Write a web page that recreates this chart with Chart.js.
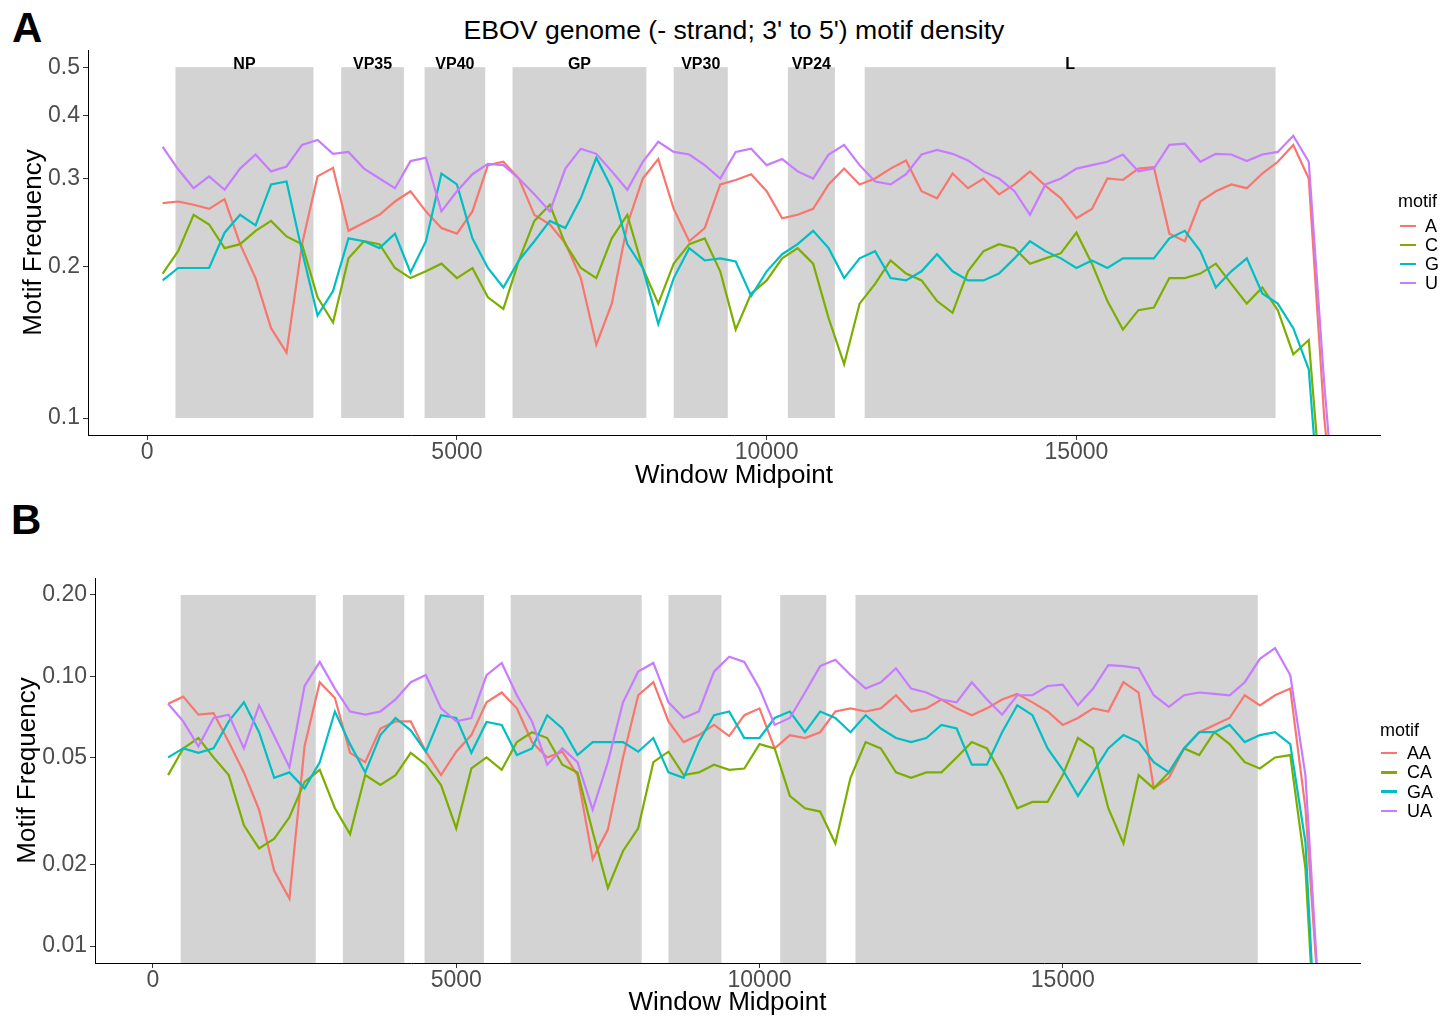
<!DOCTYPE html>
<html lang="en">
<head>
<meta charset="utf-8">
<title>EBOV genome motif density</title>
<script src="https://cdn.jsdelivr.net/npm/chart.js@4.4.1/dist/chart.umd.min.js"></script>
<style>
  html, body { margin: 0; padding: 0; background: #fff; }
  body { width: 1441px; height: 1017px; position: relative; overflow: hidden;
         font-family: "Liberation Sans", Arial, Helvetica, sans-serif; color: #000; }
  canvas { position: absolute; left: 0; }
  #chartA { top: 0; }
  #chartB { top: 500px; }
  .tag { position: absolute; font-weight: bold; font-size: 42px; line-height: 42px; }
  .titulo { position: absolute; left: 88px; width: 1292px; top: 17px; text-align: center;
            font-size: 26.6px; line-height: 27px; white-space: nowrap; }
  .leyenda { position: absolute; font-size: 18px; line-height: 18px; }
  .leyenda .item { position: absolute; white-space: nowrap; }
  .leyenda .key { position: absolute; height: 2.5px; width: 16px; }
</style>
</head>
<body>
<div class="tag" style="left:12px;top:7px">A</div>
<div class="tag" style="left:11px;top:499px">B</div>
<div class="titulo">EBOV genome (- strand; 3' to 5') motif density</div>
<canvas id="chartA" width="1441" height="500"></canvas>
<canvas id="chartB" width="1441" height="517"></canvas>
<div class="leyenda" id="leyendaA"></div>
<div class="leyenda" id="leyendaB"></div>

<script>
// ------------------------------------------------------------
//  Densidad de motivos a lo largo del genoma EBOV
//  Panel A: nucleótidos sueltos; Panel B: dinucleótidos XA.
//  Los rectángulos grises marcan los genes (NP ... L).
// ------------------------------------------------------------

const FUENTE = '"Liberation Sans", Arial, Helvetica, sans-serif';
const COLORES = ['#F8766D', '#7CAE00', '#00BFC4', '#C77CFF'];

// Punto medio de cada ventana
const X_MID = [
    250, 500, 750, 1000, 1250, 1500, 1750, 2000, 2250, 2500,
    2750, 3000, 3250, 3500, 3750, 4000, 4250, 4500, 4750, 5000,
    5250, 5500, 5750, 6000, 6250, 6500, 6750, 7000, 7250, 7500,
    7750, 8000, 8250, 8500, 8750, 9000, 9250, 9500, 9750, 10000,
    10250, 10500, 10750, 11000, 11250, 11500, 11750, 12000, 12250, 12500,
    12750, 13000, 13250, 13500, 13750, 14000, 14250, 14500, 14750, 15000,
    15250, 15500, 15750, 16000, 16250, 16500, 16750, 17000, 17250, 17500,
    17750, 18000, 18250, 18500, 18750, 19000, 19250,
];

const X_TICKS = [0, 5000, 10000, 15000];
const X_TICK_LABELS = ['0', '5000', '10000', '15000'];

// Genes (coordenadas aproximadas en nt)
const GENE_NAMES = ['NP', 'VP35', 'VP40', 'GP', 'VP30', 'VP24', 'L'];
const GENE_START = [457, 3132, 4478, 5898, 8499, 10342, 11582];
const GENE_END   = [2684, 4144, 5457, 8058, 9372, 11101, 18214];

// ---- Panel A ----
const MOTIFS_A = ['A', 'C', 'G', 'U'];
const Y_TICKS_A = [0.1, 0.2, 0.3, 0.4, 0.5];
const Y_TICK_LABELS_A = ['0.1', '0.2', '0.3', '0.4', '0.5'];

const A_FREQ = [
    0.268, 0.270, 0.266, 0.261, 0.273, 0.222, 0.190, 0.151, 0.135, 0.222,
    0.303, 0.315, 0.236, 0.245, 0.254, 0.270, 0.283, 0.258, 0.239, 0.233,
    0.258, 0.319, 0.324, 0.300, 0.254, 0.243, 0.223, 0.190, 0.140, 0.169,
    0.243, 0.300, 0.328, 0.261, 0.225, 0.239, 0.292, 0.298, 0.306, 0.283,
    0.250, 0.254, 0.261, 0.292, 0.314, 0.292, 0.300, 0.314, 0.326, 0.283,
    0.274, 0.307, 0.287, 0.300, 0.279, 0.292, 0.310, 0.290, 0.274, 0.250,
    0.261, 0.300, 0.298, 0.314, 0.316, 0.233, 0.225, 0.270, 0.283, 0.292,
    0.287, 0.307, 0.324, 0.350, 0.300, 0.100, 0.050,
];
const C_FREQ = [
    0.194, 0.215, 0.254, 0.243, 0.218, 0.222, 0.236, 0.247, 0.230, 0.222,
    0.174, 0.155, 0.208, 0.225, 0.222, 0.199, 0.190, 0.196, 0.203, 0.190,
    0.199, 0.174, 0.165, 0.206, 0.247, 0.266, 0.222, 0.199, 0.190, 0.228,
    0.254, 0.199, 0.169, 0.203, 0.222, 0.228, 0.196, 0.150, 0.177, 0.188,
    0.208, 0.218, 0.203, 0.158, 0.128, 0.169, 0.185, 0.206, 0.194, 0.188,
    0.171, 0.162, 0.196, 0.215, 0.222, 0.218, 0.203, 0.208, 0.213, 0.234,
    0.203, 0.171, 0.150, 0.164, 0.166, 0.190, 0.190, 0.194, 0.203, 0.185,
    0.169, 0.182, 0.164, 0.134, 0.143, 0.060, 0.030,
];
const G_FREQ = [
    0.188, 0.199, 0.199, 0.199, 0.234, 0.254, 0.242, 0.292, 0.296, 0.215,
    0.160, 0.179, 0.228, 0.225, 0.218, 0.233, 0.195, 0.225, 0.307, 0.292,
    0.228, 0.199, 0.182, 0.206, 0.225, 0.247, 0.239, 0.274, 0.330, 0.287,
    0.222, 0.199, 0.154, 0.190, 0.218, 0.206, 0.208, 0.205, 0.175, 0.196,
    0.212, 0.222, 0.236, 0.218, 0.190, 0.208, 0.215, 0.190, 0.188, 0.196,
    0.212, 0.196, 0.188, 0.188, 0.194, 0.208, 0.225, 0.215, 0.208, 0.199,
    0.206, 0.199, 0.208, 0.208, 0.208, 0.228, 0.236, 0.215, 0.182, 0.196,
    0.208, 0.177, 0.169, 0.151, 0.125, 0.050, 0.030,
];
const U_FREQ = [
    0.347, 0.313, 0.287, 0.303, 0.285, 0.314, 0.335, 0.310, 0.317, 0.350,
    0.358, 0.336, 0.339, 0.314, 0.300, 0.287, 0.325, 0.330, 0.258, 0.283,
    0.306, 0.321, 0.319, 0.300, 0.279, 0.258, 0.314, 0.344, 0.336, 0.310,
    0.285, 0.324, 0.355, 0.339, 0.335, 0.319, 0.300, 0.339, 0.344, 0.319,
    0.328, 0.310, 0.300, 0.335, 0.350, 0.319, 0.296, 0.292, 0.306, 0.335,
    0.342, 0.336, 0.326, 0.310, 0.300, 0.283, 0.254, 0.292, 0.300, 0.314,
    0.319, 0.324, 0.335, 0.310, 0.314, 0.350, 0.352, 0.324, 0.336, 0.335,
    0.325, 0.335, 0.339, 0.365, 0.324, 0.117, 0.050,
];

// ---- Panel B ----
const MOTIFS_B = ['AA', 'CA', 'GA', 'UA'];
const Y_TICKS_B = [0.01, 0.02, 0.05, 0.1, 0.2];
const Y_TICK_LABELS_B = ['0.01', '0.02', '0.05', '0.10', '0.20'];

const AA_FREQ = [
    0.079, 0.084, 0.072, 0.073, 0.057, 0.044, 0.032, 0.019, 0.015, 0.055,
    0.095, 0.083, 0.052, 0.048, 0.064, 0.068, 0.068, 0.0525, 0.043, 0.0525,
    0.0605, 0.080, 0.087, 0.076, 0.057, 0.050, 0.0525, 0.043, 0.021, 0.027,
    0.050, 0.085, 0.095, 0.068, 0.057, 0.0605, 0.066, 0.060, 0.0717, 0.076,
    0.054, 0.0605, 0.059, 0.062, 0.074, 0.076, 0.074, 0.076, 0.085, 0.074,
    0.076, 0.082, 0.076, 0.0717, 0.076, 0.082, 0.086, 0.080, 0.074, 0.066,
    0.070, 0.076, 0.074, 0.095, 0.087, 0.0384, 0.042, 0.054, 0.062, 0.066,
    0.070, 0.085, 0.078, 0.085, 0.090, 0.0324, 0.005,
];
const CA_FREQ = [
    0.043, 0.054, 0.059, 0.050, 0.043, 0.028, 0.023, 0.025, 0.030, 0.0406,
    0.045, 0.0324, 0.026, 0.043, 0.0395, 0.043, 0.052, 0.047, 0.0395, 0.0273,
    0.0455, 0.050, 0.045, 0.057, 0.062, 0.059, 0.047, 0.044, 0.0265, 0.0164,
    0.0225, 0.0273, 0.048, 0.0525, 0.043, 0.044, 0.047, 0.045, 0.0455, 0.056,
    0.054, 0.036, 0.0324, 0.0315, 0.024, 0.042, 0.057, 0.054, 0.044, 0.042,
    0.044, 0.044, 0.050, 0.057, 0.054, 0.043, 0.0324, 0.0342, 0.0342, 0.043,
    0.059, 0.054, 0.0324, 0.024, 0.043, 0.0384, 0.044, 0.054, 0.051, 0.062,
    0.056, 0.048, 0.0455, 0.050, 0.051, 0.0194, 0.002,
];
const GA_FREQ = [
    0.050, 0.054, 0.052, 0.054, 0.068, 0.080, 0.062, 0.042, 0.044, 0.0384,
    0.048, 0.074, 0.056, 0.044, 0.0605, 0.070, 0.063, 0.0525, 0.0717, 0.070,
    0.052, 0.0677, 0.066, 0.051, 0.054, 0.0717, 0.064, 0.051, 0.057, 0.057,
    0.057, 0.0525, 0.059, 0.044, 0.042, 0.057, 0.0717, 0.074, 0.059, 0.059,
    0.070, 0.074, 0.062, 0.074, 0.070, 0.062, 0.0717, 0.064, 0.059, 0.057,
    0.059, 0.066, 0.064, 0.047, 0.047, 0.062, 0.078, 0.0717, 0.054, 0.045,
    0.036, 0.044, 0.054, 0.0605, 0.057, 0.048, 0.044, 0.054, 0.062, 0.062,
    0.066, 0.057, 0.0605, 0.062, 0.056, 0.0243, 0.002,
];
const UA_FREQ = [
    0.079, 0.068, 0.055, 0.070, 0.072, 0.054, 0.078, 0.060, 0.046, 0.092,
    0.113, 0.090, 0.074, 0.072, 0.074, 0.082, 0.095, 0.101, 0.076, 0.068,
    0.070, 0.101, 0.112, 0.085, 0.068, 0.047, 0.054, 0.048, 0.032, 0.048,
    0.080, 0.104, 0.112, 0.080, 0.070, 0.074, 0.104, 0.118, 0.113, 0.090,
    0.066, 0.070, 0.087, 0.109, 0.115, 0.101, 0.090, 0.095, 0.107, 0.090,
    0.087, 0.082, 0.080, 0.095, 0.082, 0.072, 0.085, 0.085, 0.092, 0.093,
    0.078, 0.090, 0.110, 0.109, 0.107, 0.085, 0.077, 0.085, 0.087, 0.086,
    0.085, 0.095, 0.116, 0.127, 0.101, 0.043, 0.005,
];

// Rectángulos de genes (y etiquetas opcionales) detrás de las líneas
const genePlugin = {
    id: 'genes',
    beforeDatasetsDraw(chart, args, opts) {
        const { ctx, chartArea, scales: { x, y } } = chart;
        ctx.save();
        ctx.beginPath();
        ctx.rect(chartArea.left, chartArea.top, chartArea.width, chartArea.height);
        ctx.clip();
        ctx.fillStyle = '#d3d3d3';
        const yTop = y.getPixelForValue(opts.top);
        const yBot = y.getPixelForValue(opts.bottom);
        GENE_NAMES.forEach((g, i) => {
            const x0 = x.getPixelForValue(GENE_START[i]);
            const x1 = x.getPixelForValue(GENE_END[i]);
            ctx.fillRect(x0, yTop, x1 - x0, yBot - yTop);
        });
        ctx.restore();

        if (!opts.labels) return;
        ctx.save();
        ctx.fillStyle = '#000';
        ctx.font = `bold 16px ${FUENTE}`;
        ctx.textAlign = 'center';
        ctx.textBaseline = 'alphabetic';
        GENE_NAMES.forEach((g, i) => {
            const xc = x.getPixelForValue((GENE_START[i] + GENE_END[i]) / 2);
            ctx.fillText(g, xc, yTop + 1.5);
        });
        ctx.restore();
    },
};

function crearPanel(canvasId, cfg) {
    const el = document.getElementById(canvasId);
    return new Chart(el.getContext('2d'), {
        type: 'line',
        data: {
            datasets: cfg.series.map((vals, i) => ({
                label: cfg.nombres[i],
                data: X_MID.map((x, j) => ({ x, y: vals[j] })),
                borderColor: COLORES[i],
                backgroundColor: COLORES[i],
                borderWidth: 2.2,
                pointRadius: 0,
                tension: 0,
                fill: false,
                order: cfg.series.length - i,
            })),
        },
        options: {
            responsive: false,
            animation: false,
            events: [],
            layout: { padding: cfg.padding },
            plugins: {
                legend: { display: false },
                tooltip: { enabled: false },
                genes: cfg.genes,
            },
            scales: {
                x: {
                    type: 'linear',
                    min: -955,
                    max: 19900,
                    afterBuildTicks: s => { s.ticks = X_TICKS.map(v => ({ value: v })); },
                    afterFit: s => { s.height = cfg.xAxisHeight; },
                    ticks: {
                        callback: (v, i) => X_TICK_LABELS[i],
                        color: '#4D4D4D',
                        font: { size: 23, family: FUENTE },
                        padding: -1,
                        maxRotation: 0,
                        autoSkip: false,
                    },
                    grid: { drawOnChartArea: false, tickLength: 5, tickColor: '#333333' },
                    border: { color: '#000', width: 1 },
                    title: {
                        display: true,
                        text: 'Window Midpoint',
                        color: '#000',
                        font: { size: 26, family: FUENTE },
                        padding: { top: 0, bottom: cfg.xTitlePad },
                    },
                },
                y: {
                    type: 'logarithmic',
                    min: cfg.yMin,
                    max: cfg.yMax,
                    afterBuildTicks: s => { s.ticks = cfg.yTicks.map(v => ({ value: v })); },
                    afterFit: s => { s.width = cfg.yAxisWidth; },
                    ticks: {
                        callback: (v, i) => cfg.yTickLabels[i],
                        color: '#4D4D4D',
                        font: { size: 23, family: FUENTE },
                        padding: 3,
                        autoSkip: false,
                    },
                    grid: { drawOnChartArea: false, tickLength: 5, tickColor: '#333333' },
                    border: { color: '#000', width: 1 },
                    title: {
                        display: true,
                        text: 'Motif Frequency',
                        color: '#000',
                        font: { size: 26, family: FUENTE },
                        padding: { top: cfg.yTitlePad, bottom: 0 },
                    },
                },
            },
        },
        plugins: [genePlugin],
    });
}

function pintarLeyenda(id, nombres, cfg) {
    const el = document.getElementById(id);
    el.style.left = cfg.left + 'px';
    el.style.top = cfg.top + 'px';
    let html = '<div class="item" style="left:0;top:0">motif</div>';
    nombres.forEach((n, i) => {
        const cy = cfg.firstY + i * cfg.step;
        html += `<div class="key" style="left:${cfg.keyX}px;top:${cy - 1.25}px;background:${COLORES[i]}"></div>`;
        html += `<div class="item" style="left:${cfg.textX}px;top:${cy - 9}px">${n}</div>`;
    });
    el.innerHTML = html;
}

crearPanel('chartA', {
    series: [A_FREQ, C_FREQ, G_FREQ, U_FREQ],
    nombres: MOTIFS_A,
    padding: { left: 0, right: 61, top: 50, bottom: 0 },
    yMin: 0.0925, yMax: 0.541,
    yTicks: Y_TICKS_A, yTickLabels: Y_TICK_LABELS_A,
    yAxisWidth: 88, xAxisHeight: 65,
    xTitlePad: 9, yTitlePad: 18,
    genes: { top: 0.5, bottom: 0.1, labels: true },
});

crearPanel('chartB', {
    series: [AA_FREQ, CA_FREQ, GA_FREQ, UA_FREQ],
    nombres: MOTIFS_B,
    padding: { left: 0, right: 81, top: 78, bottom: 0 },
    yMin: 0.00865, yMax: 0.2312,
    yTicks: Y_TICKS_B, yTickLabels: Y_TICK_LABELS_B,
    yAxisWidth: 95, xAxisHeight: 54,
    xTitlePad: -1, yTitlePad: 12,
    genes: { top: 0.2, bottom: 0.005, labels: false },
});

pintarLeyenda('leyendaA', MOTIFS_A, { left: 1398, top: 192, keyX: 2, textX: 27, firstY: 34, step: 19 });
pintarLeyenda('leyendaB', MOTIFS_B, { left: 1380, top: 721, keyX: 1, textX: 27, firstY: 32, step: 19.3 });
</script>
</body>
</html>
